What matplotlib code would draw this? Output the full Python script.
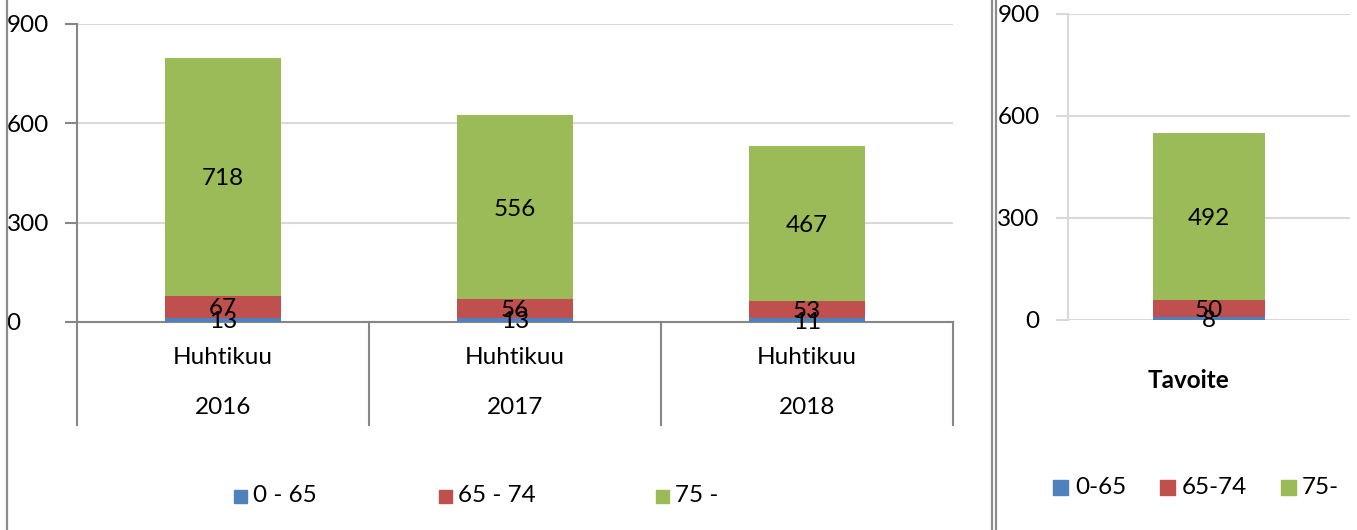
import matplotlib
matplotlib.use("Agg")
import matplotlib.pyplot as plt
from matplotlib.lines import Line2D
from matplotlib.patches import Rectangle
from matplotlib.transforms import blended_transform_factory

# April figures per age group, plus the target column
years = ["2016", "2017", "2018"]
month = "Huhtikuu"
age_0_65 = [13, 13, 11]
age_65_74 = [67, 56, 53]
age_75 = [718, 556, 467]
series_names = ["0 - 65", "65 - 74", "75 -"]

target_label = "Tavoite"
target_values = [8, 50, 492]
target_names = ["0-65", "65-74", "75-"]

y_ticks = [0, 300, 600, 900]
colors = ["#4F81BD", "#C0504D", "#9BBB59"]

W, H = 1357, 530
plt.rcParams["font.family"] = ["Lato", "DejaVu Sans"]
FS = 17.5
AXIS_DARK = "#868686"
GRID = "#d9d9d9"


def fx(px):
    return px / W


def fy(py):
    return 1 - py / H


fig = plt.figure(figsize=(W / 100, H / 100), dpi=100)

# ---- left chart: stacked columns by year ----
ax = fig.add_axes([fx(77), fy(322), (953 - 77) / W, (322 - 24) / H])
x = list(range(len(years)))
bottom = [0] * len(years)
for vals, c in zip([age_0_65, age_65_74, age_75], colors):
    ax.bar(x, vals, width=0.397, bottom=bottom, color=c, zorder=3)
    for xi, b, v in zip(x, bottom, vals):
        ax.text(xi, b + v / 2, str(v), ha="center", va="center_baseline",
                fontsize=FS, zorder=4)
    bottom = [b + v for b, v in zip(bottom, vals)]

ax.set_xlim(-0.5, len(years) - 0.5)
ax.set_ylim(0, 900)
ax.set_yticks(y_ticks)
ax.grid(axis="y", color=GRID, lw=1.5, zorder=0)
for s in ["top", "right", "bottom"]:
    ax.spines[s].set_visible(False)
ax.spines["left"].set_color(AXIS_DARK)
ax.spines["left"].set_linewidth(1.5)
ax.axhline(0, color=AXIS_DARK, lw=1.5, zorder=2, clip_on=False)
ax.set_xticks([])
ax.tick_params(axis="y", length=9, width=1.5, color=AXIS_DARK, labelsize=FS, pad=41.8)
for lab in ax.get_yticklabels():
    lab.set_horizontalalignment("left")

# two-level category axis with separators
tr = blended_transform_factory(ax.transData, ax.transAxes)
span = 322 - 24
drop = (425 - 322) / span
for xb in [i - 0.5 for i in range(len(years) + 1)]:
    ax.plot([xb, xb], [0, -drop], color=AXIS_DARK, lw=1.5, transform=tr, clip_on=False)
for xi, yr in zip(x, years):
    ax.text(xi, -(357 - 322) / span, month, ha="center", va="center",
            fontsize=FS, transform=tr)
    ax.text(xi, -(408 - 322) / span, yr, ha="center", va="center",
            fontsize=FS, transform=tr)

# left legend
for (sx, tx), name, c in zip([(234, 253), (439, 458), (656, 675)], series_names, colors):
    fig.add_artist(Rectangle((fx(sx), fy(503)), 13 / W, 13 / H, color=c,
                             transform=fig.transFigure))
    fig.text(fx(tx), fy(496), name, ha="left", va="center", fontsize=FS)

# ---- right chart: target column ----
ax2 = fig.add_axes([fx(1068), fy(320), (1350 - 1068) / W, (320 - 14) / H])
b = 0
for v, c in zip(target_values, colors):
    ax2.bar([0], [v], width=0.40, bottom=b, color=c, zorder=3)
    ax2.text(0, b + v / 2, str(v), ha="center", va="center_baseline",
             fontsize=FS, zorder=4)
    b += v
ax2.set_xlim(-0.5, 0.5)
ax2.set_ylim(0, 900)
ax2.set_yticks(y_ticks)
ax2.set_xticks([])
ax2.grid(axis="y", color=GRID, lw=1.5, zorder=0)
for s in ["top", "right", "bottom"]:
    ax2.spines[s].set_visible(False)
ax2.spines["left"].set_color(GRID)
ax2.spines["left"].set_linewidth(1.5)
ax2.tick_params(axis="y", length=9, width=1.5, color=GRID, labelsize=FS, pad=11.5)
fig.text(fx(1189), fy(380), target_label, ha="center", va="center",
         fontsize=FS, fontweight="bold")

for (sx, tx), name, c in zip([(1053, 1075), (1160, 1182), (1281, 1302)], target_names, colors):
    fig.add_artist(Rectangle((fx(sx), fy(495)), 15 / W, 15 / H, color=c,
                             transform=fig.transFigure))
    fig.text(fx(tx), fy(488), name, ha="left", va="center", fontsize=FS)

# chart frames
for px in [7, 992, 995.5]:
    fig.add_artist(Line2D([fx(px)] * 2, [0, 1], color="#8c8c8c", lw=1.6,
                          transform=fig.transFigure))

fig.savefig("out.png", dpi=100)
